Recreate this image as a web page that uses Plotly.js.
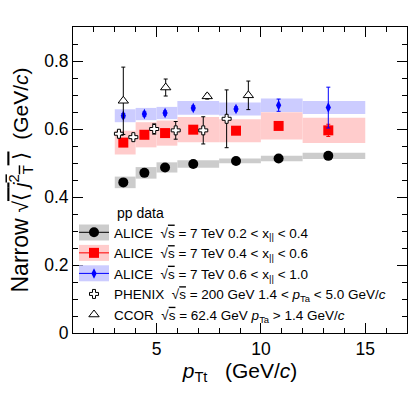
<!DOCTYPE html>
<html>
<head>
<meta charset="utf-8">
<script src="https://cdn.plot.ly/plotly-3.0.1.min.js"></script>
<style>
  html, body { margin: 0; padding: 0; background: #fff; }
  #chart { width: 415px; height: 396px; }
</style>
</head>
<body>
<div id="chart"></div>
<script>
// pT,t bins of the ALICE points
const binLo = [3, 4, 5, 6, 8, 10, 12];
const binHi = [4, 5, 6, 8, 10, 12, 15];
const aliceX = [3.41, 4.42, 5.41, 6.76, 8.81, 10.85, 13.23];

// ALICE 0.2 < xll < 0.4
const lowY = [0.443, 0.471, 0.487, 0.497, 0.506, 0.513, 0.521];
const lowErr = [0.004, 0.004, 0.004, 0.004, 0.004, 0.004, 0.004];
const lowSys = [0.017, 0.017, 0.015, 0.011, 0.007, 0.008, 0.009];

// ALICE 0.4 < xll < 0.6
const midY = [0.560, 0.583, 0.588, 0.598, 0.595, 0.609, 0.596];
const midErr = [0.006, 0.006, 0.006, 0.006, 0.006, 0.008, 0.018];
const midSys = [0.035, 0.037, 0.037, 0.037, 0.034, 0.040, 0.037];

// ALICE 0.6 < xll < 1.0
const highY = [0.639, 0.644, 0.647, 0.662, 0.659, 0.670, 0.663];
const highErr = [0.006, 0.006, 0.006, 0.006, 0.006, 0.018, 0.06];
const highSys = [0.019, 0.018, 0.018, 0.020, 0.019, 0.020, 0.019];

// PHENIX
const phenixX = [3.20, 3.89, 4.89, 5.92, 7.24, 8.36];
const phenixY = [0.586, 0.576, 0.600, 0.596, 0.596, 0.630];
const phenixErr = [0.008, 0.006, 0.015, 0.026, 0.040, 0.085];

// CCOR
const ccorX = [3.41, 5.44, 7.43, 9.40];
const ccorY = [0.683, 0.722, 0.696, 0.699];
const ccorErr = [0.099, 0.025, 0.008, 0.042];

const font = 'Arial, "Liberation Sans", sans-serif';
const sqrtS = '√<span style="text-decoration:overline">s</span>';

const series = [
  { y: lowY, err: lowErr, sys: lowSys, color: 'black', band: '#cccccc', symbol: 'circle', size: 10,
    name: 'ALICE  ' + sqrtS + ' = 7 TeV 0.2 &lt; x<sub>||</sub> &lt; 0.4' },
  { y: midY, err: midErr, sys: midSys, color: 'red', band: '#ffcccc', symbol: 'square', size: 10,
    name: 'ALICE  ' + sqrtS + ' = 7 TeV 0.4 &lt; x<sub>||</sub> &lt; 0.6' },
  { y: highY, err: highErr, sys: highSys, color: 'blue', band: '#ccccff', symbol: 'diamond-tall', size: 7.5,
    name: 'ALICE  ' + sqrtS + ' = 7 TeV 0.6 &lt; x<sub>||</sub> &lt; 1.0' }
];

const traces = [];
const shapes = [];

// legend-only entries for the ALICE series (line through marker)
series.forEach(s => {
  traces.push({
    x: [null], y: [null], type: 'scatter', mode: 'lines+markers', name: s.name,
    line: { color: s.color, width: 1 },
    marker: { color: s.color, symbol: s.symbol, size: s.size }
  });
});

// systematic boxes and points
series.forEach((s, k) => {
  for (let i = 0; i < binLo.length; i++) {
    shapes.push({
      type: 'rect', xref: 'x', yref: 'y', layer: 'below',
      x0: binLo[i], x1: binHi[i], y0: s.y[i] - s.sys[i], y1: s.y[i] + s.sys[i],
      fillcolor: s.band, line: { width: 0 }
    });
  }
  // band behind the legend symbol
  shapes.push({
    type: 'rect', xref: 'paper', yref: 'paper', layer: 'above',
    xsizemode: 'pixel', ysizemode: 'pixel', xanchor: 0, yanchor: 1,
    x0: 6, x1: 36, y0: -197.5 - k * 20.4, y1: -213.5 - k * 20.4,
    fillcolor: s.band, line: { width: 0 }
  });
  traces.push({
    x: aliceX, y: s.y, type: 'scatter', mode: 'markers', showlegend: false,
    marker: { color: s.color, symbol: s.symbol, size: s.size },
    error_y: { type: 'data', array: s.err, color: s.color, thickness: 1, width: 2 }
  });
});

traces.push({
  x: phenixX, y: phenixY, type: 'scatter', mode: 'markers',
  name: 'PHENIX  ' + sqrtS + ' = 200 GeV 1.4 &lt; <i>p</i><sub>Ta</sub> &lt; 5.0 GeV/<i>c</i>',
  marker: { symbol: 'cross', size: 7.5, color: 'white', line: { color: 'black', width: 1 } },
  error_y: { type: 'data', array: phenixErr, color: 'black', thickness: 1, width: 2 }
});

traces.push({
  x: ccorX, y: ccorY, type: 'scatter', mode: 'markers',
  name: 'CCOR  ' + sqrtS + ' = 62.4 GeV <i>p</i><sub>Ta</sub> &gt; 1.4 GeV/<i>c</i>',
  marker: { symbol: 'triangle-up', size: 9, color: 'white', line: { color: 'black', width: 1 } },
  error_y: { type: 'data', array: ccorErr, color: 'black', thickness: 1, width: 2 }
});

const axisBase = {
  showline: true, linecolor: 'black', linewidth: 1, mirror: 'allticks',
  ticks: 'inside', tickcolor: 'black', ticklen: 10, tickwidth: 1,
  showgrid: false, zeroline: false, tickfont: { family: font, size: 17.5, color: 'black' }
};

const layout = {
  width: 415, height: 396,
  margin: { l: 73, r: 8, t: 27, b: 63 },
  paper_bgcolor: 'white', plot_bgcolor: 'white',
  font: { family: font, color: 'black' },
  xaxis: Object.assign({}, axisBase, {
    range: [1, 17], tickvals: [5, 10, 15], ticktext: ['5', '10', '15'],
    minor: { dtick: 1, ticklen: 5, ticks: 'inside', tickcolor: 'black' },
    title: { text: '<i>p</i><sub>Tt</sub>   (GeV/<i>c</i>)', font: { family: font, size: 21 }, standoff: 4 }
  }),
  yaxis: Object.assign({}, axisBase, {
    range: [0, 0.9], tickvals: [0, 0.2, 0.4, 0.6, 0.8], ticktext: ['0', '0.2', '0.4', '0.6', '0.8'],
    minor: { dtick: 0.05, ticklen: 5, ticks: 'inside', tickcolor: 'black' },
    title: {
      text: '<span style="font-size:23px">Narrow</span> √<span style="text-decoration:overline">⟨ <i>j</i><sup>2</sup><sub>T</sub> ⟩</span>  (GeV/<i>c</i>)',
      font: { family: font, size: 21 }, standoff: 9
    }
  }),
  showlegend: true,
  legend: {
    x: 0.003, y: 0.379, xanchor: 'left', yanchor: 'top',
    bgcolor: 'rgba(0,0,0,0)', borderwidth: 0,
    font: { family: font, size: 13.5, color: 'black' },
    traceorder: 'normal', itemclick: false
  },
  annotations: [{
    xref: 'paper', yref: 'paper', x: 0.1257, y: 0.393, xanchor: 'left', yanchor: 'middle',
    text: 'pp data', showarrow: false, font: { family: font, size: 14, color: 'black' }
  }],
  shapes: shapes
};

Plotly.newPlot('chart', traces, layout, { staticPlot: true });
</script>
</body>
</html>
